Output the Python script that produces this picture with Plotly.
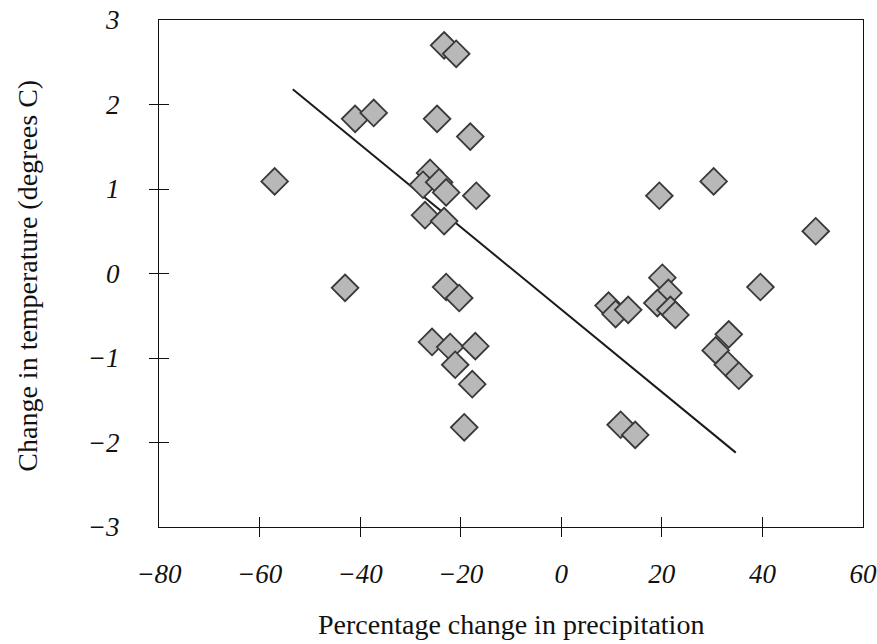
import plotly.graph_objects as go

# Data
precip_change = [-57.0, -23.3, -20.9, -41.0, -37.3, -24.7, -18.1, -26.1, -27.5, -24.3, -22.9,
                 -16.9, -27.1, -23.3,
                 -43.0, -22.9, -20.3, -25.7, -22.1, -17.1, -21.1, -17.7, -19.3,
                 19.5, 30.3, 50.6, 20.1, 39.6, 9.4, 10.8, 13.3, 21.3, 19.1, 21.7, 22.7,
                 33.3, 30.7, 33.1, 35.3, 11.8, 14.7]
temp_change = [1.09, 2.70, 2.60, 1.83, 1.90, 1.83, 1.62, 1.19, 1.05, 1.08, 0.96,
               0.92, 0.69, 0.62,
               -0.17, -0.16, -0.29, -0.81, -0.87, -0.86, -1.08, -1.31, -1.82,
               0.92, 1.09, 0.50, -0.05, -0.16, -0.38, -0.48, -0.43, -0.23, -0.35, -0.43, -0.49,
               -0.72, -0.91, -1.08, -1.21, -1.79, -1.91]

fit_x = [-53.4, 34.7]
fit_y = [2.18, -2.12]

x_tick_vals = [-80, -60, -40, -20, 0, 20, 40, 60]
x_tick_text = ["\u221280", "\u221260", "\u221240", "\u221220", "0", "20", "40", "60"]
x_minor_vals = [-60, -40, -20, 0, 20, 40]
y_tick_vals = [-3, -2, -1, 0, 1, 2, 3]
y_tick_text = ["\u22123", "\u22122", "\u22121", "0", "1", "2", "3"]
y_minor_vals = [-2, -1, 0, 1, 2]

fig = go.Figure()
fig.add_trace(go.Scatter(
    x=fit_x, y=fit_y, mode="lines",
    line=dict(color="#1a1a1a", width=2),
    showlegend=False, hoverinfo="skip"))
fig.add_trace(go.Scatter(
    x=precip_change, y=temp_change, mode="markers",
    marker=dict(symbol="diamond", size=20.5, color="#b8b8b8",
                line=dict(color="#383838", width=1.8)),
    showlegend=False))

tickfont = dict(family="Liberation Serif", size=27, color="#111", style="italic")

fig.update_layout(
    width=877, height=644,
    paper_bgcolor="white", plot_bgcolor="white",
    margin=dict(l=159, r=14, t=20, b=117),
    font=dict(family="Liberation Serif", color="#111"),
    xaxis=dict(range=[-80, 60], tickvals=x_tick_vals, ticktext=x_tick_text,
               automargin=False,
               ticks="inside", ticklen=10, tickwidth=1.3, tickcolor="#111",
               minor=dict(tickvals=x_minor_vals, ticks="outside", ticklen=9,
                          tickwidth=1.3, tickcolor="#111", showgrid=False),
               showline=True, linecolor="#111", linewidth=1.3, mirror=True,
               showgrid=False, zeroline=False,
               tickfont=tickfont, ticklabelstandoff=22),
    yaxis=dict(range=[-3, 3], tickvals=y_tick_vals, ticktext=y_tick_text,
               automargin=False,
               ticks="inside", ticklen=10, tickwidth=1.3, tickcolor="#111",
               minor=dict(tickvals=y_minor_vals, ticks="outside", ticklen=9,
                          tickwidth=1.3, tickcolor="#111", showgrid=False),
               showline=True, linecolor="#111", linewidth=1.3, mirror=True,
               showgrid=False, zeroline=False,
               tickfont=tickfont, ticklabelstandoff=33),
    annotations=[
        dict(text="Percentage change in precipitation", xref="paper", yref="paper",
             x=0.5, y=-0.193, xanchor="center", yanchor="middle", showarrow=False,
             font=dict(family="Liberation Serif", size=28, color="#111")),
        dict(text="Change in temperature (degrees C)", xref="paper", yref="paper",
             x=-0.188, y=0.495, xanchor="center", yanchor="middle", showarrow=False,
             textangle=-90,
             font=dict(family="Liberation Serif", size=28, color="#111")),
    ],
)

fig.write_html("out.html", config={"displayModeBar": False},
               post_script="document.body.style.margin='0';")
